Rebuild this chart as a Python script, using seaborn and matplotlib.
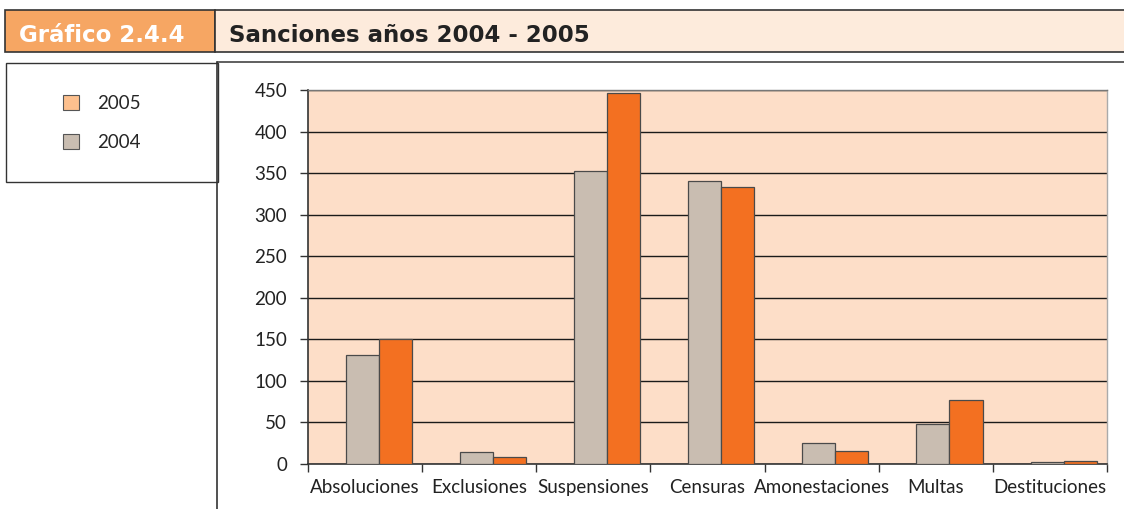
import matplotlib
matplotlib.use("Agg")
import matplotlib.pyplot as plt
import seaborn as sns
import pandas as pd
from matplotlib.patches import Rectangle, Patch
from matplotlib.lines import Line2D

categories = ["Absoluciones", "Exclusiones", "Suspensiones", "Censuras",
              "Amonestaciones", "Multas", "Destituciones"]
values_2004 = [131, 15, 353, 340, 25, 48, 3]
values_2005 = [150, 9, 446, 333, 16, 77, 4]
years = ["2004", "2005"]
legend_labels = ["2005", "2004"]
yticks = [0, 50, 100, 150, 200, 250, 300, 350, 400, 450]

df = pd.DataFrame({
    "categoria": categories * 2,
    "valor": values_2004 + values_2005,
    "año": ["2004"] * len(categories) + ["2005"] * len(categories),
})

sns.set_theme(style="white")
FONT = ["Lato", "DejaVu Sans"]
HFONT = ["DejaVu Sans"]
plt.rcParams["font.family"] = FONT

W, H = 1124, 509
fig = plt.figure(figsize=(W / 100, H / 100), dpi=100)
fig.patch.set_facecolor("white")

def fx(x):
    return x / W

def fy(y):
    return 1 - y / H

# Header boxes
fig.patches.append(Rectangle((fx(5), fy(52)), fx(215 - 5), fy(10) - fy(52),
                             transform=fig.transFigure, facecolor="#F6A663",
                             edgecolor="#333333", lw=1.2))
fig.patches.append(Rectangle((fx(215), fy(52)), fx(1130 - 215), fy(10) - fy(52),
                             transform=fig.transFigure, facecolor="#FDEBDC",
                             edgecolor="#333333", lw=1.2))
fig.text(fx(19), fy(35), "Gráfico 2.4.4", color="white", fontsize=16.5,
         fontweight="bold", va="center", ha="left", family=HFONT)
fig.text(fx(229), fy(35), "Sanciones años 2004 - 2005", color="#222222",
         fontsize=16.5, fontweight="bold", va="center", ha="left", family=HFONT)

# Separator line and legend box
fig.lines.append(Line2D([fx(217), fx(1124)], [fy(62), fy(62)],
                        transform=fig.transFigure, color="#444444", lw=1.2))
fig.patches.append(Rectangle((fx(6), fy(182)), fx(218 - 6), fy(63) - fy(182),
                             transform=fig.transFigure, facecolor="white",
                             edgecolor="#333333", lw=1.0))
fig.lines.append(Line2D([fx(217), fx(217)], [fy(62), fy(509)],
                        transform=fig.transFigure, color="#333333", lw=1.2))

# Main axes
ax = fig.add_axes([fx(308), fy(464), fx(1107 - 308), fy(90) - fy(464)])
ax.set_facecolor("#FDDEC8")
sns.barplot(data=df, x="categoria", y="valor", hue="año", hue_order=years,
            order=categories, palette={"2004": "#C9BDB1", "2005": "#F37021"},
            saturation=1, width=0.58, gap=0, edgecolor="#4a4a4a",
            linewidth=0.9, legend=False, ax=ax, zorder=3)

# bars sit slightly right of the category centre in the reference
for p in ax.patches:
    p.set_x(p.get_x() + 0.12)

ax.set_xlim(-0.5, len(categories) - 0.5)
ax.set_ylim(0, 450)
ax.set_yticks(yticks)
ax.set_yticklabels([str(v) for v in yticks])
ax.yaxis.grid(True, color="#1a1a1a", lw=1.0, zorder=0)
ax.set_axisbelow(True)
ax.set_xlabel("")
ax.set_ylabel("")

ax.set_xticks(range(len(categories)))
ax.set_xticklabels(categories)
ax.set_xticks([i - 0.5 for i in range(len(categories) + 1)], minor=True)
ax.tick_params(axis="x", which="major", length=0, pad=11, labelsize=13.5,
               labelcolor="#222222")
ax.tick_params(axis="x", which="minor", length=6, width=1.0, color="#333333",
               direction="out", bottom=True)
ax.tick_params(axis="y", which="major", length=6, width=1.0, color="#333333",
               direction="out", left=True, pad=9, labelsize=13.5,
               labelcolor="#222222")

for side in ["left", "bottom"]:
    ax.spines[side].set_color("#333333")
    ax.spines[side].set_linewidth(1.2)
ax.spines["top"].set_color("#777777")
ax.spines["top"].set_linewidth(1.0)
ax.spines["right"].set_color("#aaaaaa")
ax.spines["right"].set_linewidth(1.0)

# Legend
handles = [Patch(facecolor="#FDC08E", edgecolor="#555555", lw=0.8),
           Patch(facecolor="#C9BDB1", edgecolor="#555555", lw=0.8)]
fig.legend(handles, legend_labels, loc="upper left",
           bbox_to_anchor=(fx(50), fy(82)), frameon=False,
           handlelength=0.85, handleheight=0.85, handletextpad=0.95,
           labelspacing=1.15, borderpad=0.2,
           prop={"family": FONT, "size": 13.5})

fig.savefig("out.png", dpi=100, facecolor="white")
